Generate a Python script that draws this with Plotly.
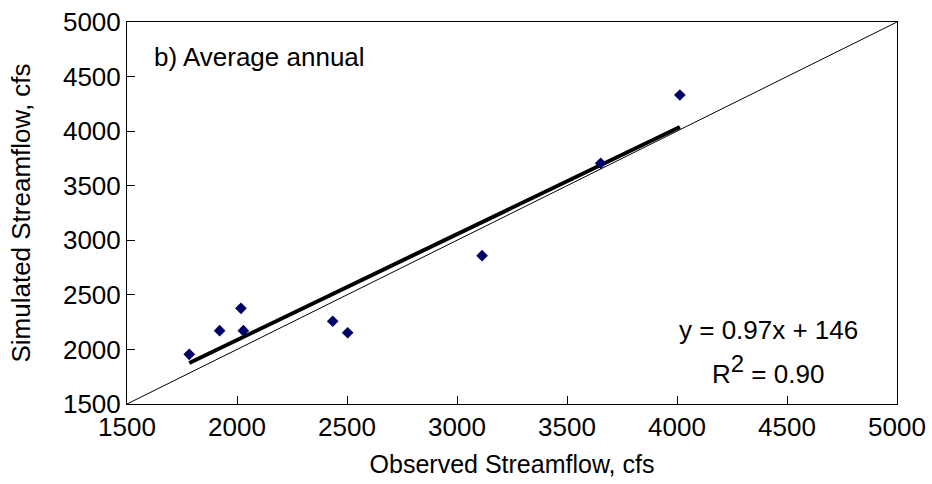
import plotly.graph_objects as go

observed = [1783, 1921, 2018, 2029, 2435, 2503, 3114, 3653, 4013]
simulated = [1955, 2172, 2377, 2172, 2258, 2153, 2859, 3705, 4331]
slope = 0.97
intercept = 146
r2 = 0.90
axis_range = [1500, 5000]
tick_vals = [1500, 2000, 2500, 3000, 3500, 4000, 4500, 5000]

FONT = "Liberation Sans, Arial, sans-serif"

x_fit = [min(observed), max(observed)]
y_fit = [slope * v + intercept for v in x_fit]

fig = go.Figure()
fig.add_trace(go.Scatter(x=axis_range, y=axis_range, mode="lines",
                         line=dict(color="black", width=1), showlegend=False, hoverinfo="skip"))
fig.add_trace(go.Scatter(x=x_fit, y=y_fit, mode="lines",
                         line=dict(color="black", width=4), showlegend=False))
fig.add_trace(go.Scatter(x=observed, y=simulated, mode="markers",
                         marker=dict(symbol="diamond", size=9, color="#000066",
                                     line=dict(width=0)), showlegend=False))

axis_common = dict(range=axis_range, tickvals=tick_vals, ticks="inside", ticklen=8,
                   tickcolor="black", tickwidth=1, showgrid=False, zeroline=False,
                   showline=True, linecolor="black", linewidth=1, mirror=True,
                   automargin=False,
                   tickfont=dict(family=FONT, size=26, color="black"))

fig.update_xaxes(**axis_common,
                 title=dict(text="Observed Streamflow, cfs", standoff=14,
                            font=dict(family=FONT, size=25, color="black")))
fig.update_yaxes(**axis_common,
                 title=dict(text="Simulated Streamflow, cfs", standoff=24,
                            font=dict(family=FONT, size=26, color="black")))

fig.add_annotation(xref="paper", yref="paper", x=0.032, y=0.909, xanchor="left", yanchor="middle",
                   text="b) Average annual", showarrow=False,
                   font=dict(family=FONT, size=26, color="black"))
fig.add_annotation(xref="paper", yref="paper", x=0.8325, y=0.194, xanchor="center", yanchor="middle",
                   text=f"y = {slope:.2f}x + {intercept}", showarrow=False,
                   font=dict(family=FONT, size=26, color="black"))
fig.add_annotation(xref="paper", yref="paper", x=0.8325, y=0.09, xanchor="center", yanchor="middle",
                   text=f"R<sup><span style='font-size:24px'>2</span></sup> = {r2:.2f}", showarrow=False,
                   font=dict(family=FONT, size=26, color="black"))

fig.update_layout(width=932, height=484, margin=dict(l=127, r=35, t=22, b=80, autoexpand=False),
                  plot_bgcolor="white", paper_bgcolor="white",
                  font=dict(family=FONT, size=26, color="black"))

fig.write_html("out.html")
